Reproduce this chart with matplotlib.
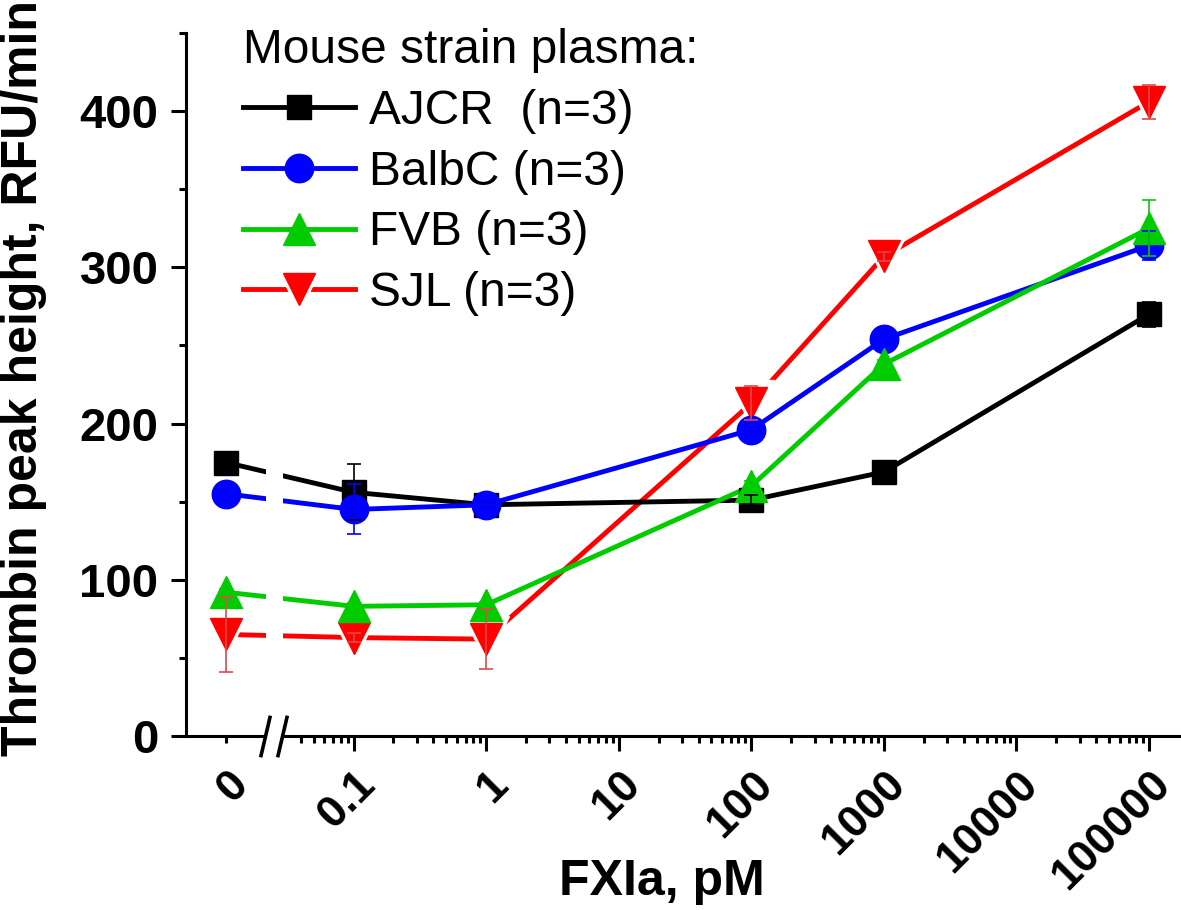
import matplotlib
matplotlib.use('Agg')
import matplotlib.pyplot as plt
from matplotlib.ticker import FixedLocator, NullFormatter
from matplotlib.transforms import ScaledTranslation
from matplotlib.legend_handler import HandlerTuple

plt.rcParams['font.family'] = ['Liberation Sans', 'DejaVu Sans']

# FXIa concentration (pM); 0 is drawn left of the axis break
conc = [0, 0.1, 1, 100, 1000, 100000]
zero_at = 0.011

ajcr = [175, 156, 148, 151, 169, 270]
ajcr_err = [2, 18, 2, 3, 2, 8]
balbc = [155, 145, 148, 196, 254, 314]
balbc_err = [2, 16, 2, 3, 3, 9]
fvb = [92, 83, 84, 160, 238, 325]
fvb_err = [2, 2, 2, 3, 3, 18]
sjl = [65, 63, 62, 213, 307, 406]
sjl_err = [24, 3, 19, 11, 3, 11]

labels = ['AJCR  (n=3)', 'BalbC (n=3)', 'FVB (n=3)', 'SJL (n=3)']
xtick_vals = [zero_at, 0.1, 1, 10, 100, 1000, 10000, 100000]
xtick_text = ['0', '0.1', '1', '10', '100', '1000', '10000', '100000']

x = [zero_at if c == 0 else c for c in conc]

fig = plt.figure(figsize=(11.81, 9.10), dpi=100)
ax = fig.add_axes([186/1181, 174/910, 995/1181, 703/910])
ax.set_xscale('log')
ax.set_xlim(10**-2.264, 10**5.241)
ax.set_ylim(0, 450)

lw = 3.5
# SJL: white halo markers give the gaps round the symbols
sjl_line, = ax.plot(x, sjl, color='#ff0000', lw=lw, marker='v', ms=33,
                    mfc='white', mec='white', zorder=1.8)
sjl_mark, = ax.plot(x, sjl, ls='none', marker='v', ms=23, color='#ff0000',
                    mec='#ff0000', zorder=2.2)

series = [(ajcr, 'black', 's', 17.5), (balbc, '#0000ff', 'o', 20.5),
          (fvb, '#00cc00', '^', 23)]
handles = []
for yy, c, m, ms in series:
    ax.plot(x, yy, color=c, lw=lw, zorder=2)
    mk, = ax.plot(x, yy, ls='none', marker=m, ms=ms, color=c, zorder=2.2)
    ln, = ax.plot([], [], color=c, lw=lw)
    handles.append((ln, mk))
handles.append((sjl_line, sjl_mark))

for yy, ee, c in [(ajcr, ajcr_err, 'black'), (balbc, balbc_err, '#0000ff'),
                  (fvb, fvb_err, '#00cc00'), (sjl, sjl_err, '#e04848')]:
    ax.errorbar(x, yy, yerr=ee, fmt='none', ecolor=c, elinewidth=1.2,
                capsize=5, capthick=1.2, zorder=5)

# axis break
ax.axvspan(0.0220, 0.0296, ymin=-0.012, ymax=0.55, color='white', lw=0,
           zorder=3, clip_on=False)
brk = ax.get_xaxis_transform()
ax.plot([0.0216, 0.0290], [0, 0], ls='none', marker=[(-3.5, -15), (3.5, 15)],
        ms=30, mfc='none', mec='black', mew=2.6, transform=brk,
        clip_on=False, zorder=6)

# spines and ticks
for s in ['top', 'right']:
    ax.spines[s].set_visible(False)
for s in ['left', 'bottom']:
    ax.spines[s].set_linewidth(2.2)

ax.set_xticks(xtick_vals)
ax.set_xticklabels(xtick_text)
minors = [m * 10.0**k for k in range(-1, 5) for m in range(2, 10)]
minors = [0.04, 0.05, 0.06, 0.07, 0.08, 0.09] + minors
ax.xaxis.set_minor_locator(FixedLocator(minors))
ax.xaxis.set_minor_formatter(NullFormatter())
ax.set_yticks([0, 100, 200, 300, 400])
ax.yaxis.set_minor_locator(FixedLocator([50, 150, 250, 350, 450]))

ax.tick_params(which='major', length=10.8, width=2.2, direction='out')
ax.tick_params(which='minor', length=5, width=2.2, direction='out')
ax.tick_params(axis='y', which='major', labelsize=34, pad=9)
ax.tick_params(axis='x', which='major', labelsize=32, pad=9)
ax.xaxis.get_major_ticks()[0].tick1line.set_markersize(5)

for t in ax.get_yticklabels():
    t.set_fontweight('bold')
off = ScaledTranslation(0.30, 0, fig.dpi_scale_trans)
for t in ax.get_xticklabels():
    t.set_fontweight('bold')
    t.set_rotation(45)
    t.set_ha('right')
    t.set_va('top')
    t.set_transform(t.get_transform() + off)

ax.set_xlabel('FXIa, pM', fontsize=36, fontweight='bold')
ax.xaxis.set_label_coords((662 - 186) / 995, (736 - 895) / 703)
ax.xaxis.label.set_va('baseline')
ax.set_ylabel('Thrombin peak height, RFU/min', fontsize=36, fontweight='bold')
ax.yaxis.set_label_coords((24 - 186) / 995, (736 - 378) / 703)
ax.yaxis.label.set_va('center')

leg = ax.legend(handles, labels,
                title='Mouse strain plasma:', loc='upper left',
                bbox_to_anchor=(243/1181, 1 - 28/910),
                bbox_transform=fig.transFigure, frameon=False,
                fontsize=34.5, title_fontsize=34.5, handlelength=2.33,
                handletextpad=0.3, labelspacing=0.33, borderpad=0,
                borderaxespad=0, alignment='left',
                handler_map={tuple: HandlerTuple(ndivide=1)})
leg.set_zorder(7)

fig.savefig('out.png', dpi=100)
